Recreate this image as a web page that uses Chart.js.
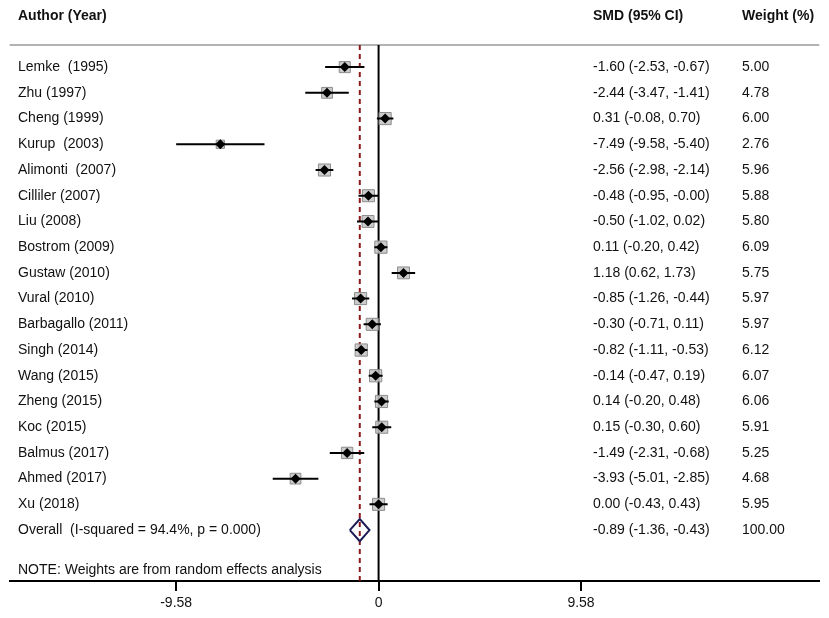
<!DOCTYPE html>
<html>
<head>
<meta charset="utf-8">
<script src="https://cdn.jsdelivr.net/npm/chart.js@4.4.1/dist/chart.umd.min.js"></script>
<style>
  body { margin: 0; background: #fff; }
  #wrap { width: 829px; height: 618px; }
</style>
</head>
<body>
<div id="wrap"><canvas id="forest" width="829" height="618"></canvas></div>
<script>
// study data
const studies = ["Lemke  (1995)", "Zhu (1997)", "Cheng (1999)", "Kurup  (2003)", "Alimonti  (2007)",
  "Cilliler (2007)", "Liu (2008)", "Bostrom (2009)", "Gustaw (2010)", "Vural (2010)",
  "Barbagallo (2011)", "Singh (2014)", "Wang (2015)", "Zheng (2015)", "Koc (2015)",
  "Balmus (2017)", "Ahmed (2017)", "Xu (2018)"];
const smd     = [-1.60, -2.44, 0.31, -7.49, -2.56, -0.48, -0.50, 0.11, 1.18, -0.85, -0.30, -0.82, -0.14, 0.14, 0.15, -1.49, -3.93, 0.00];
const ciLow   = [-2.53, -3.47, -0.08, -9.58, -2.98, -0.95, -1.02, -0.20, 0.62, -1.26, -0.71, -1.11, -0.47, -0.20, -0.30, -2.31, -5.01, -0.43];
const ciHigh  = [-0.67, -1.41, 0.70, -5.40, -2.14, -0.00, 0.02, 0.42, 1.73, -0.44, 0.11, -0.53, 0.19, 0.48, 0.60, -0.68, -2.85, 0.43];
const weights = [5.00, 4.78, 6.00, 2.76, 5.96, 5.88, 5.80, 6.09, 5.75, 5.97, 5.97, 6.12, 6.07, 6.06, 5.91, 5.25, 4.68, 5.95];

const overallLabel = "Overall  (I-squared = 94.4%, p = 0.000)";
const overall = [-0.89, -1.36, -0.43];   // estimate, low, high
const overallWeight = 100.00;

const tickValues = [-9.58, 0, 9.58];
const tickLabels = ["-9.58", "0", "9.58"];

const fmt = v => (v < 0 || Object.is(v, -0)) ? '-' + Math.abs(v).toFixed(2) : v.toFixed(2);
const ciText = (e, l, h) => fmt(e) + ' (' + fmt(l) + ', ' + fmt(h) + ')';

const yMin = -0.86, yMax = 19.98;
const overallRow = studies.length;

// CI whiskers, separated by gaps
const ciData = [];
studies.forEach((s, i) => {
  ciData.push({x: ciLow[i], y: i}, {x: ciHigh[i], y: i}, {x: NaN, y: NaN});
});
const boxData = studies.map((s, i) => ({x: smd[i], y: i}));
const diamondData = overall.length ? [
  {x: overall[1], y: overallRow},
  {x: overall[0], y: overallRow - 0.43},
  {x: overall[2], y: overallRow},
  {x: overall[0], y: overallRow + 0.43},
  {x: overall[1], y: overallRow}
] : [];

const textPlugin = {
  id: 'forestText',
  beforeDatasetsDraw(chart) {
    const {ctx, chartArea} = chart;
    ctx.save();
    ctx.strokeStyle = '#9a9a9a';
    ctx.lineWidth = 1.5;
    ctx.beginPath();
    ctx.moveTo(chartArea.left, chartArea.top);
    ctx.lineTo(chartArea.right, chartArea.top);
    ctx.stroke();
    ctx.restore();
  },
  afterDraw(chart) {
    const {ctx, chartArea} = chart;
    const y = chart.scales.y;
    ctx.save();
    ctx.fillStyle = '#111';
    ctx.textBaseline = 'middle';
    ctx.font = 'bold 14px Arial, "Liberation Sans", sans-serif';
    ctx.fillText('Author (Year)', 18, 16);
    ctx.fillText('SMD (95% CI)', 593, 16);
    ctx.fillText('Weight (%)', 742, 16);

    ctx.font = '14px Arial, "Liberation Sans", sans-serif';
    studies.forEach((s, i) => {
      const py = y.getPixelForValue(i);
      ctx.fillText(s, 18, py);
      ctx.fillText(ciText(smd[i], ciLow[i], ciHigh[i]), 593, py);
      ctx.fillText(weights[i].toFixed(2), 742, py);
    });
    const oy = y.getPixelForValue(overallRow);
    ctx.fillText(overallLabel, 18, oy);
    ctx.fillText(ciText(overall[0], overall[1], overall[2]), 593, oy);
    ctx.fillText(overallWeight.toFixed(2), 742, oy);
    ctx.fillText('NOTE: Weights are from random effects analysis', 18, chartArea.bottom - 11);
    ctx.restore();
  }
};

const ctx = document.getElementById('forest').getContext('2d');
const forest = new Chart(ctx, {
  type: 'scatter',
  data: {
    datasets: [
      {
        label: 'null line',
        type: 'line',
        data: [{x: 0, y: yMin}, {x: 0, y: yMax}],
        borderColor: '#000',
        borderWidth: 2,
        pointRadius: 0,
        order: 6
      },
      {
        label: 'overall line',
        type: 'line',
        data: [{x: overall[0], y: yMin}, {x: overall[0], y: yMax}],
        borderColor: '#8b1a1a',
        borderWidth: 2,
        borderDash: [5, 4],
        pointRadius: 0,
        order: 5
      },
      {
        label: 'weight boxes',
        data: boxData,
        pointStyle: 'rect',
        pointRadius: weights.map(w => 3.5 * Math.sqrt(w)),
        backgroundColor: 'rgba(195,195,195,0.85)',
        borderColor: '#8c8c8c',
        borderWidth: 1,
        order: 4
      },
      {
        label: 'CI',
        type: 'line',
        data: ciData,
        borderColor: '#000',
        borderWidth: 2,
        pointRadius: 0,
        spanGaps: false,
        order: 3
      },
      {
        label: 'estimates',
        data: boxData,
        pointStyle: 'rectRot',
        pointRadius: 5,
        backgroundColor: '#000',
        borderColor: '#000',
        borderWidth: 0,
        order: 2
      },
      {
        label: 'overall',
        type: 'line',
        data: diamondData,
        borderColor: '#1b1b55',
        borderWidth: 2,
        pointRadius: 0,
        fill: false,
        order: 1
      }
    ]
  },
  options: {
    responsive: false,
    animation: false,
    events: [],
    layout: { padding: { left: 8, right: 9, top: 45, bottom: 0 } },
    plugins: { legend: { display: false }, tooltip: { enabled: false } },
    scales: {
      x: {
        type: 'linear',
        min: -17.46,
        max: 20.86,
        afterBuildTicks(scale) {
          scale.ticks = tickValues.map(v => ({ value: v }));
        },
        afterFit(scale) { scale.height = 37; },
        ticks: {
          autoSkip: false,
          maxRotation: 0,
          padding: 4,
          color: '#111',
          font: { family: 'Arial, "Liberation Sans", sans-serif', size: 14 },
          callback: (v, i) => tickLabels[i]
        },
        grid: {
          display: true,
          drawOnChartArea: false,
          drawTicks: true,
          tickLength: 10,
          color: '#000',
          lineWidth: 2
        },
        border: { display: true, color: '#000', width: 2 }
      },
      y: {
        type: 'linear',
        display: false,
        reverse: true,
        min: yMin,
        max: yMax
      }
    }
  },
  plugins: [textPlugin]
});
</script>
</body>
</html>
